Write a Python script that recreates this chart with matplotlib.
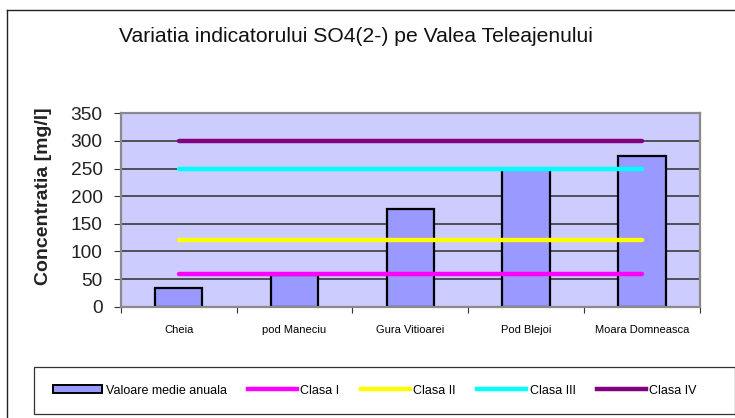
import numpy as np
import matplotlib
matplotlib.use("Agg")
import matplotlib.pyplot as plt
from matplotlib.patches import Rectangle, Patch
from matplotlib.lines import Line2D

plt.rcParams['font.family'] = ['Liberation Sans', 'DejaVu Sans']

statii = ['Cheia', 'pod Maneciu', 'Gura Vitioarei', 'Pod Blejoi', 'Moara Domneasca']
medie = [33, 57, 177, 249, 273]

clase = ['Clasa I', 'Clasa II', 'Clasa III', 'Clasa IV']
limite = [60, 120, 250, 300]
culori = ['#FF00FF', '#FFFF00', '#00FFFF', '#800080']

W, H = 735, 418
fig = plt.figure(figsize=(W / 100, H / 100), dpi=100)

def fx(px):
    return px / W

def fy(py):
    return 1 - py / H

# chart frame (top and left edges only)
fig.add_artist(Line2D([fx(7), fx(7)], [fy(10), 0], color='#222222', lw=1.0))
fig.add_artist(Line2D([fx(7), 1], [fy(10), fy(10)], color='#222222', lw=1.0))

ax = fig.add_axes([fx(120.7), fy(306.7), fx(700) - fx(120.7), fy(113.3) - fy(306.7)])
ax.set_facecolor('#CCCCFF')

x = np.arange(len(statii))
ax.bar(x, medie, width=0.41, color='#9999FF', edgecolor='black', linewidth=1.6, zorder=2)

for lim, c in zip(limite, culori):
    ax.plot(x, [lim] * len(x), color=c, lw=3.2, solid_capstyle='round', zorder=3)

ax.set_xlim(-0.5, len(statii) - 0.5)
ax.set_ylim(0, 350)
ax.set_yticks(np.arange(0, 351, 50))
ax.yaxis.grid(True, color='#3a3a3a', lw=1.2, zorder=1)
ax.set_axisbelow(True)

ax.set_xticks(np.arange(-0.5, len(statii), 1.0))
ax.set_xticklabels([])
ax.set_xticks(x, minor=True)
ax.set_xticklabels(statii, minor=True, fontsize=8)
ax.tick_params(axis='x', which='minor', length=0, pad=13)
ax.tick_params(axis='x', which='major', length=4, width=0.8, color='#333333')
ax.tick_params(axis='y', length=5, width=0.8, color='#333333', pad=8, labelsize=13.8, labelcolor='#222222')

for s in ax.spines.values():
    s.set_color('#8a8a8a')
    s.set_linewidth(1.6)

fig.text(fx(44), fy(196), 'Concentratia [mg/l]', rotation=90, ha='center', va='center',
         fontsize=14, fontweight='bold', color='#222222')
fig.text(fx(356), fy(37), 'Variatia indicatorului SO4(2-) pe Valea Teleajenului',
         ha='center', va='center', fontsize=15.2, color='#111111')

# legend box
fig.add_artist(Rectangle((fx(34), fy(414)), 1 - fx(34), fy(367.3) - fy(414),
                         transform=fig.transFigure, fill=False, edgecolor='#333333', lw=0.9))

handles = [Patch(facecolor='#9999FF', edgecolor='black', linewidth=1.4)]
handles += [Line2D([], [], color=c, lw=3.2) for c in culori]
labels = ['Valoare medie anuala'] + clase
fig.legend(handles, labels, loc='center', bbox_to_anchor=(fx(375), fy(390.7)), ncol=5,
           frameon=False, fontsize=9, handlelength=3.9, handleheight=0.65,
           handletextpad=0.3, columnspacing=1.7)

fig.savefig('out.png', dpi=100)
